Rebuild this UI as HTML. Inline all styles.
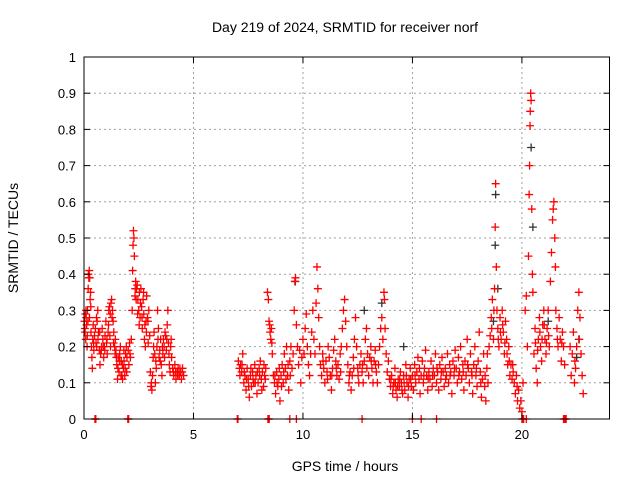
<!DOCTYPE html>
<html><head><meta charset="utf-8"><style>
html,body{margin:0;padding:0;background:#fff}
svg{display:block;font-family:"Liberation Sans",sans-serif}
</style></head><body>
<svg id="chart" width="640" height="480" viewBox="0 0 640 480">
<rect width="640" height="480" fill="#fff"/>
<text x="345" y="32" font-size="14" text-anchor="middle">Day 219 of 2024, SRMTID for receiver norf</text>
<text x="18" y="238" font-size="14" text-anchor="middle" transform="rotate(-90 18 238)">SRMTID / TECUs</text>
<text x="345" y="471" font-size="14" text-anchor="middle">GPS time / hours</text>
<g id="grid"></g>
<g id="marks"></g>
<g id="axes"></g>
</svg>
<script>
const xTicks=[0,5,10,15,20];
const yTicks=[0,0.1,0.2,0.3,0.4,0.5,0.6,0.7,0.8,0.9,1];
const yTickLabels=["0","0.1","0.2","0.3","0.4","0.5","0.6","0.7","0.8","0.9","1"];
const blackObs=[[18.8,.62],[18.78,.48],[20.42,.75],[20.5,.53],[9.65,.38],[13.6,.32],[18.9,.36],[22.6,.22],[12.8,.3],[14.6,.2],[18.7,.27],[21.2,.27],[22.5,.17]];
const redObs=[
[0.02,.27],[0.04,.25],[0.06,.29],[0.08,.22],[0.1,.28],[0.12,.26],[0.14,.2],[0.16,.3],[0.18,.27],[0.2,.4],[0.22,.39],[0.24,.41],[0.26,.39],[0.28,.33],[0.3,.35],[0.32,.24],[0.34,.2],[0.36,.17],[0.38,.14],[0.4,.22],[0.42,.26],[0.45,.19],[0.48,.23],
[0.52,.25],[0.55,.21],[0.58,.2],[0.6,.27],[0.63,.3],[0.66,.24],[0.7,.19],[0.73,.15],[0.76,.18],[0.8,.2],[0.83,.25],[0.86,.22],[0.9,.17],[0.93,.2],[0.96,.23],[1.0,.27],[1.03,.21],[1.06,.18],[1.1,.24],[1.13,.3],[1.16,.31],[1.2,.29],
[1.23,.32],[1.26,.33],[1.3,.3],[1.33,.27],[1.36,.24],[1.4,.2],[1.43,.22],[1.46,.19],[1.5,.15],[1.53,.11],[1.56,.17],[1.6,.13],[1.63,.18],[1.66,.2],[1.7,.16],[1.73,.12],[1.76,.11],[1.8,.14],[1.83,.16],[1.86,.12],[1.9,.18],[1.93,.2],[1.96,.17],
[2.02,.19],[2.05,.15],[2.08,.21],[2.12,.17],[2.16,.22],[2.2,.3],[2.22,.41],[2.24,.48],[2.26,.52],[2.28,.5],[2.3,.45],[2.33,.34],[2.36,.38],[2.4,.36],
[2.43,.37],[2.46,.33],[2.5,.3],[2.53,.35],[2.56,.28],[2.6,.36],[2.63,.31],[2.66,.25],[2.7,.33],[2.73,.29],[2.76,.22],[2.8,.2],[2.83,.27],[2.86,.34],[2.9,.28],[2.93,.21],[2.96,.3],
[3.0,.23],[3.03,.13],[3.06,.09],[3.1,.08],[3.13,.12],[3.16,.17],[3.2,.24],[3.23,.18],[3.26,.1],[3.3,.14],[3.33,.2],[3.36,.3],[3.4,.25],[3.43,.17],[3.46,.19],[3.5,.22],[3.53,.15],[3.56,.12],[3.6,.18],[3.63,.22],[3.66,.2],[3.7,.24],[3.73,.23],[3.76,.19],[3.8,.26],[3.83,.3],[3.86,.21],[3.9,.15],[3.93,.13],[3.96,.2],
[4.0,.17],[4.05,.14],[4.1,.12],[4.15,.15],[4.2,.11],[4.25,.13],[4.3,.14],[4.35,.12],[4.4,.13],[4.45,.11],[4.5,.14],[4.55,.12],
[0.05,.24],[0.09,.3],[0.15,.23],[0.19,.36],[0.25,.28],[0.31,.31],[0.44,.21],[0.57,.28],[0.64,.22],[0.72,.24],[0.79,.19],[0.88,.2],[0.95,.19],[1.05,.22],[1.12,.26],[1.18,.23],[1.21,.2],[1.28,.28],[1.35,.21],[1.42,.18],[1.48,.17],[1.55,.14],[1.62,.16],[1.69,.12],[1.75,.15],[1.82,.19],[1.88,.14],[1.95,.13],[2.1,.18],[2.34,.36],[2.38,.33],[2.45,.29],[2.52,.26],[2.58,.32],[2.65,.28],[2.72,.35],[2.78,.26],[2.85,.24],[2.92,.27],[3.08,.1],[3.18,.2],[3.28,.16],[3.38,.22],[3.48,.16],[3.58,.2],[3.68,.17],[3.78,.22],[3.88,.18],[3.98,.22],[4.08,.13],[4.18,.13],[4.28,.12],[4.38,.14],[4.48,.13],
[0.5,0],[0.52,0],[0.54,0],[2.0,0],[2.02,0],[2.04,0],
[7.05,.16],[7.1,.14],[7.15,.15],[7.2,.13],[7.25,.18],[7.3,.1],[7.35,.12],[7.4,.08],[7.45,.14],[7.5,.11],[7.55,.06],[7.6,.12],[7.65,.09],[7.7,.13],[7.75,.1],[7.8,.15],[7.85,.12],[7.9,.07],[7.95,.1],[8.0,.14],[8.05,.16],[8.1,.11],[8.15,.13],[8.2,.09],[8.25,.12],[8.3,.14],
[7.12,.12],[7.22,.15],[7.32,.13],[7.42,.11],[7.52,.09],[7.62,.14],[7.72,.11],[7.82,.1],[7.92,.13],[8.02,.12],[8.12,.08],[8.22,.15],[8.28,.11],
[8.38,.35],[8.42,.33],[8.45,.27],[8.5,.24],[8.53,.22],[8.56,.25],[8.6,.18],[8.48,.26],[8.58,.21],
[8.65,.12],[8.7,.1],[8.75,.07],[8.8,.13],[8.85,.09],[8.9,.11],[8.95,.05],[9.0,.12],[9.05,.15],[9.1,.1],[9.15,.18],[9.2,.14],[9.25,.2],[9.3,.12],[9.35,.08],[9.4,.16],[9.45,.2],[9.5,.14],
[8.72,.12],[8.82,.1],[8.92,.14],[9.02,.09],[9.12,.13],[9.22,.11],[9.32,.15],[9.42,.12],
[9.55,.18],[9.6,.3],[9.63,.38],[9.66,.39],[9.7,.26],[9.75,.2],[9.8,.15],[9.85,.19],[9.9,.1],[9.95,.17],[10.0,.22],[10.05,.18],[10.1,.25],[10.15,.29],[10.2,.2],[10.25,.15],[10.3,.12],[10.35,.18],[10.4,.24],[10.45,.3],[10.5,.22],
[10.55,.18],[10.6,.32],[10.64,.42],[10.68,.36],[10.72,.28],[10.76,.2],[10.8,.15],[10.85,.12],[10.9,.18],[10.95,.14],[11.0,.1],[11.05,.16],[11.1,.13],[11.15,.2],[11.2,.17],[11.25,.12],[11.3,.08],[11.35,.14],[11.4,.19],[11.45,.22],[11.5,.16],[11.55,.12],[11.6,.15],[11.65,.11],[11.7,.18],[11.75,.2],[11.8,.25],[11.85,.3],[11.9,.33],[11.95,.27],
[12.0,.2],[12.05,.15],[12.1,.1],[12.15,.13],[12.2,.08],[12.25,.12],[12.3,.17],[12.35,.22],[12.4,.28],[12.45,.2],[12.5,.14],[12.55,.1],[12.6,.15],[12.65,.18],[12.7,.13],[12.75,.1],[12.8,.16],[12.85,.22],[12.9,.25],[12.95,.18],[13.0,.12],[13.05,.17],[13.1,.2],[13.15,.14],[13.2,.1],[13.25,.16],[13.3,.19],[13.35,.13],[13.4,.1],[13.45,.15],
[10.92,.16],[11.12,.11],[11.32,.12],[11.52,.14],[11.72,.13],[12.12,.12],[12.32,.14],[12.52,.12],[12.72,.15],[12.92,.14],[13.12,.16],[13.32,.15],
[13.5,.2],[13.55,.25],[13.6,.28],[13.65,.22],[13.7,.35],[13.72,.33],[13.75,.25],[13.8,.18],[13.85,.13],[13.9,.16],[13.95,.11],
[14.0,.09],[14.05,.12],[14.1,.07],[14.15,.1],[14.2,.14],[14.25,.08],[14.3,.06],[14.35,.11],[14.4,.09],[14.45,.13],[14.5,.1],[14.55,.07],[14.6,.12],[14.65,.08],[14.7,.15],[14.75,.1],[14.8,.06],[14.85,.11],[14.9,.14],[14.95,.09],
[14.02,.11],[14.12,.09],[14.22,.1],[14.32,.09],[14.42,.11],[14.52,.08],[14.62,.1],[14.72,.12],[14.82,.09],[14.92,.11],
[15.0,.12],[15.05,.08],[15.1,.15],[15.15,.1],[15.2,.13],[15.25,.17],[15.3,.11],[15.35,.07],[15.4,.12],[15.45,.16],[15.5,.1],[15.55,.14],[15.6,.19],[15.65,.12],[15.7,.08],[15.75,.13],[15.8,.11],[15.85,.16],[15.9,.09],[15.95,.14],[16.0,.12],[16.05,.18],[16.1,.1],[16.15,.13],[16.2,.08],[16.25,.15],[16.3,.11],[16.35,.17],[16.4,.13],[16.45,.09],[16.5,.14],[16.55,.12],[16.6,.18],[16.65,.1],[16.7,.15],[16.75,.13],[16.8,.07],[16.85,.16],[16.9,.12],[16.95,.19],
[15.12,.12],[15.32,.14],[15.52,.12],[15.72,.11],[15.92,.12],[16.12,.14],[16.32,.13],[16.52,.11],[16.72,.12],[16.92,.14],
[17.0,.14],[17.05,.1],[17.1,.17],[17.15,.13],[17.2,.2],[17.25,.11],[17.3,.15],[17.35,.08],[17.4,.16],[17.45,.12],[17.5,.22],[17.55,.14],[17.6,.1],[17.65,.18],[17.7,.13],[17.75,.07],[17.8,.15],[17.85,.2],[17.9,.12],[17.95,.09],[18.0,.16],[18.05,.24],[18.1,.13],[18.15,.06],[18.2,.11],[18.25,.18],[18.3,.09],[18.35,.05],[18.4,.14],[18.45,.1],
[17.12,.12],[17.32,.13],[17.52,.15],[17.72,.12],[17.92,.14],[18.12,.1],[18.32,.12],[18.42,.18],
[18.5,.2],[18.55,.23],[18.6,.28],[18.65,.33],[18.7,.22],[18.75,.36],[18.78,.53],[18.8,.65],[18.83,.42],[18.86,.3],[18.9,.25],[18.95,.2],[19.0,.28],[19.05,.22],[19.1,.3],[19.15,.24],[19.2,.18],[19.25,.27],[19.3,.22],[19.35,.15],[19.4,.2],[19.45,.12],
[18.62,.25],[18.72,.3],[18.92,.22],[19.02,.24],[19.12,.26],[19.22,.21],[19.32,.18],[19.42,.16],
[19.5,.15],[19.55,.11],[19.6,.13],[19.65,.1],[19.7,.07],[19.75,.12],[19.8,.05],[19.85,.08],[19.9,.03],[19.95,.05],[20.0,.02],[20.05,.1],[19.58,.15],[19.78,.09],
[20.15,.3],[20.2,.34],[20.25,.2],[20.3,.45],[20.33,.62],[20.35,.7],[20.37,.81],[20.38,.85],[20.4,.9],[20.42,.88],[20.45,.58],[20.48,.4],[20.5,.35],
[20.55,.18],[20.6,.25],[20.65,.14],[20.7,.1],[20.75,.22],[20.8,.28],[20.85,.2],[20.9,.16],[20.95,.26],[21.0,.3],[21.05,.22],[21.1,.18],[21.15,.25],[21.2,.3],[21.25,.2],
[20.62,.21],[20.72,.19],[20.82,.24],[20.92,.22],[21.02,.26],[21.12,.21],[21.22,.23],
[21.3,.38],[21.35,.46],[21.4,.55],[21.43,.58],[21.46,.6],[21.5,.5],[21.53,.42],
[21.55,.3],[21.6,.25],[21.65,.2],[21.7,.28],[21.75,.22],[21.8,.16],[21.85,.24],[21.9,.2],[21.95,.15],[21.62,.22],[21.82,.21],
[22.2,.2],[22.25,.12],[22.3,.18],[22.35,.24],[22.4,.1],[22.45,.14],[22.5,.2],[22.55,.3],[22.6,.35],[22.65,.28],[22.7,.18],[22.75,.12],[22.8,.07],[22.42,.16],[22.62,.22],
[7.0,0],[7.03,0],[8.4,0],[8.43,0],[8.46,0],[9.4,0],[9.7,0],[12.7,0],[15.0,0],[15.4,0],[16.1,0],[20.0,0],[20.04,0],[20.08,0],[20.2,0],[21.9,0],[21.94,0],[21.98,0],[22.02,0]
];
const L=84,R=609.5,T=57,B=419,XMAX=24;
const sx=v=>L+(R-L)*v/XMAX, sy=v=>B-(B-T)*v;
const NS='http://www.w3.org/2000/svg';
function mk(tag,attrs,parent){const e=document.createElementNS(NS,tag);for(const k in attrs)e.setAttribute(k,attrs[k]);parent.appendChild(e);return e;}
const grid=document.getElementById('grid'),axes=document.getElementById('axes'),marks=document.getElementById('marks');
yTicks.forEach((v,i)=>{const y=sy(v);
 if(v>0&&v<1){const g=mk('line',{x1:L,x2:R,y1:y,y2:y,stroke:'#a0a0a0','stroke-dasharray':'2,3'},grid);
 
 }
 mk('line',{x1:L,x2:L+6,y1:y,y2:y,stroke:'#000'},axes);
 mk('line',{x1:R-6,x2:R,y1:y,y2:y,stroke:'#000'},axes);
 const t=mk('text',{x:L-8,y:y+5,'font-size':13,'text-anchor':'end'},axes);t.textContent=yTickLabels[i];
 
 
});
xTicks.forEach(v=>{const x=sx(v);
 if(v>0){const g=mk('line',{x1:x,x2:x,y1:T,y2:B,stroke:'#a0a0a0','stroke-dasharray':'2,3'},grid);
 
 }
 mk('line',{x1:x,x2:x,y1:B,y2:B-6,stroke:'#000'},axes);
 mk('line',{x1:x,x2:x,y1:T,y2:T+6,stroke:'#000'},axes);
 const t=mk('text',{x:x,y:B+20,'font-size':13,'text-anchor':'middle'},axes);t.textContent=String(v);
 
 
});
const box=mk('rect',{x:L,y:T,width:R-L,height:B-T,fill:'none',stroke:'#000','stroke-width':1},axes);


function plus(d,col){const x=sx(d[0]),y=sy(d[1]);
 const p=mk('path',{d:`M${x-4},${y}h8M${x},${y-4}v8`,stroke:col,'stroke-width':1.3,fill:'none'},marks);
 
 }
blackObs.forEach(d=>plus(d,'#333'));
redObs.forEach(d=>plus(d,'#ff0000'));
</script>
</body></html>
